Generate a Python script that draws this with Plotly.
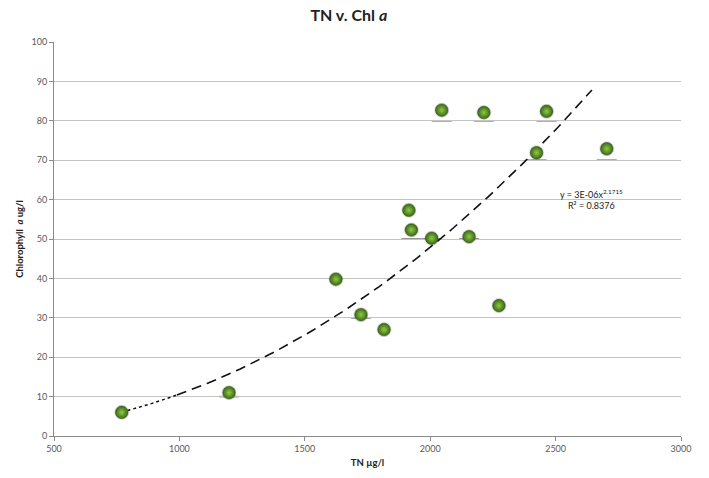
import numpy as np
import plotly.graph_objects as go

# Total nitrogen (µg/l) and chlorophyll a (µg/l) per sample
tn = [770, 1198, 1624, 1724, 1816, 1915, 1925, 2006, 2046, 2155, 2214, 2274, 2424, 2464, 2704]
chl = [6.0, 11.0, 39.8, 30.8, 27.0, 57.3, 52.3, 50.2, 82.7, 50.6, 82.1, 33.1, 71.9, 82.4, 72.9]

# Power trendline y = a * x^b
trend_coef = 3.25e-6
trend_exp = 2.1715
trend_r2 = 0.8376
trend_end = 2645
trend_split = 990

x_ticks = [500, 1000, 1500, 2000, 2500, 3000]
y_ticks = list(range(0, 101, 10))

font_family = "Lato, 'Open Sans', sans-serif"
tick_color = "#595959"
grid_color = "#c4c4c4"
axis_color = "#8a8a8a"

fig = go.Figure()

# trendline: dotted near the low end, dashed beyond
x_lo = np.linspace(min(tn), trend_split, 30)
x_hi = np.linspace(trend_split, trend_end, 120)
fig.add_trace(go.Scatter(x=x_lo, y=trend_coef * x_lo ** trend_exp, mode="lines",
                         line=dict(color="#111111", width=1.5, dash="dot"),
                         hoverinfo="skip", showlegend=False))
fig.add_trace(go.Scatter(x=x_hi, y=trend_coef * x_hi ** trend_exp, mode="lines",
                         line=dict(color="#111111", width=1.6, dash="10px,6px"),
                         hoverinfo="skip", showlegend=False))

# soft shadow under each marker
fig.add_trace(go.Scatter(x=tn, y=chl, mode="markers",
                         marker=dict(size=15, color="rgba(0,0,0,0.14)", line=dict(width=0)),
                         hoverinfo="skip", showlegend=False))
# green sphere markers: dark rim, lighter centre
fig.add_trace(go.Scatter(x=tn, y=chl, mode="markers",
                         marker=dict(size=12.5, color="#3c6a16",
                                     gradient=dict(type="radial", color="#8ec944"),
                                     line=dict(width=0.6, color="#2f5410")),
                         showlegend=False))

# marker shadows falling on the gridline just below a point
shapes = []
for xv, yv in zip(tn, chl):
    g = np.floor(yv / 10) * 10
    if g >= 10 and yv - g <= 3.0:
        shapes.append(dict(type="line", xref="x", yref="y", xsizemode="pixel",
                           xanchor=xv, x0=-10, x1=10, y0=g, y1=g,
                           line=dict(color="#7a7a7a", width=1.6), layer="below"))

eq_text = (f"y = {trend_coef:.0E}x<sup>{trend_exp}</sup><br>R² = {trend_r2}")
fig.add_annotation(x=trend_end, y=60, xref="x", yref="y", text=eq_text,
                   showarrow=False, align="center",
                   font=dict(family=font_family, size=9, color="#222222"))

fig.update_layout(
    width=709, height=478,
    margin=dict(l=54, r=28, t=42, b=37),
    paper_bgcolor="white", plot_bgcolor="white",
    title=dict(text="<b>TN v. Chl <i>a</i></b>", x=0.492, xanchor="center",
               y=0.968, yanchor="middle",
               font=dict(family=font_family, size=16, color="#222222")),
    shapes=shapes,
    xaxis=dict(range=[500, 3000], tickvals=x_ticks, ticktext=[str(v) for v in x_ticks],
               showgrid=False, zeroline=False, showline=True, linecolor=axis_color,
               linewidth=1, ticks="outside", ticklen=4, tickcolor=axis_color,
               tickfont=dict(family=font_family, size=9, color=tick_color),
               title=dict(text="<b>TN µg/l</b>", standoff=6,
                          font=dict(family=font_family, size=9.5, color="#222222"))),
    yaxis=dict(range=[0, 100], tickvals=y_ticks, ticktext=[str(v) for v in y_ticks],
               showgrid=True, gridcolor=grid_color, gridwidth=1, zeroline=False,
               showline=True, linecolor=axis_color, linewidth=1,
               ticks="outside", ticklen=4, tickcolor=axis_color,
               tickfont=dict(family=font_family, size=9, color=tick_color),
               title=dict(text="<b>Chlorophyll  <i>a</i> ug/l</b>", standoff=6,
                          font=dict(family=font_family, size=9.5, color="#222222"))),
)

fig.write_html("out.html")
